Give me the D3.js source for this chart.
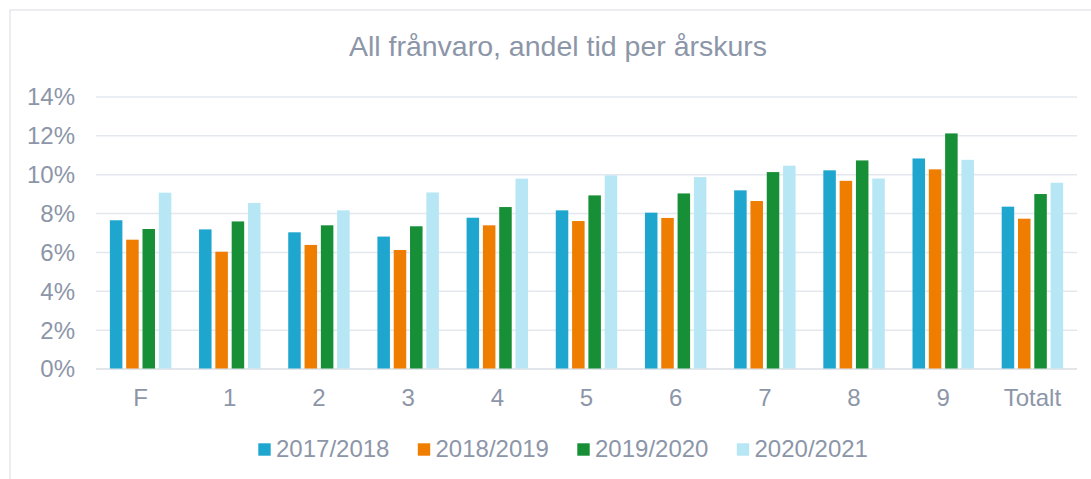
<!DOCTYPE html>
<html>
<head>
<meta charset="utf-8">
<script src="https://cdn.jsdelivr.net/npm/d3@7"></script>
<style>
    html, body { margin: 0; padding: 0; background: #fff; }
    svg { display: block; font-family: "Liberation Sans", Arial, sans-serif; }
</style>
</head>
<body>
<svg id="chart" width="1091" height="479"></svg>
<script>

// data
const categories   =   ['F', '1', '2', '3', '4', '5', '6', '7', '8', '9', 'Totalt'];
const seriesNames  =   ['2017/2018', '2018/2019', '2019/2020', '2020/2021'];
const s2017        =   [7.63, 7.16, 7.01, 6.79, 7.76, 8.14, 8.02, 9.17, 10.20, 10.81, 8.33];
const s2018        =   [6.63, 6.01, 6.36, 6.10, 7.37, 7.59, 7.75, 8.62, 9.66, 10.25, 7.71];
const s2019        =   [7.18, 7.57, 7.37, 7.32, 8.31, 8.91, 9.01, 10.11, 10.71, 12.10, 8.98];
const s2020        =   [9.05, 8.52, 8.14, 9.06, 9.77, 9.94, 9.85, 10.44, 9.78, 10.74, 9.56];
const yTicks       =   [0, 2, 4, 6, 8, 10, 12, 14];
const title        =   'All frånvaro, andel tid per årskurs';

const seriesValues =   [s2017, s2018, s2019, s2020];
const colors       =   ['#1fa6cf', '#ee7d00', '#168f36', '#b7e6f5'];
const textColor    =   '#8c96a8';

const svg = d3.select('#chart');

// outer frame, runs off the right and bottom edge
svg.append('rect')
    .attr('x', 10).attr('y', 10)
    .attr('width', 1100).attr('height', 490)
    .attr('fill', '#fff')
    .attr('stroke', '#e5e8ec')
    .attr('stroke-width', 1.5);

const plot = { left: 96, right: 1077, top: 96.5, bottom: 368.5 };

const x0 = d3.scaleBand()
    .domain(categories)
    .range([plot.left, plot.right])
    .paddingInner(0.311)
    .paddingOuter(0.1555);

const x1 = d3.scaleBand()
    .domain(seriesNames)
    .range([0, x0.bandwidth()])
    .paddingInner(0.233);

const y = d3.scaleLinear()
    .domain([0, 14])
    .range([plot.bottom, plot.top]);

// title
svg.append('text')
    .attr('x', 558)
    .attr('y', 56)
    .attr('text-anchor', 'middle')
    .attr('fill', textColor)
    .style('font-size', '28.5px')
    .text(title);

// gridlines + y axis labels
const yAxis = d3.axisLeft(y)
    .tickValues(yTicks)
    .tickSize(-(plot.right - plot.left))
    .tickPadding(21)
    .tickFormat(d => d + '%');

const gy = svg.append('g')
    .attr('transform', `translate(${plot.left},0)`)
    .call(yAxis);
gy.select('.domain').remove();
gy.selectAll('.tick line')
    .attr('stroke', d => d === 0 ? '#d9dee5' : '#e4e8ee')
    .attr('stroke-width', 1.5);
gy.selectAll('.tick text')
    .attr('fill', textColor)
    .attr('dy', '0.35em')
    .style('font-size', '24px')
    .style('font-family', '"Liberation Sans", Arial, sans-serif');

// bars
const groups = svg.append('g')
    .selectAll('g')
    .data(categories)
    .join('g')
    .attr('transform', d => `translate(${x0(d)},0)`);

groups.selectAll('rect')
    .data((c, i) => seriesNames.map((s, k) => ({ series: s, k: k, value: seriesValues[k][i] })))
    .join('rect')
    .attr('x', d => x1(d.series))
    .attr('y', d => y(d.value))
    .attr('width', x1.bandwidth())
    .attr('height', d => y(0) - y(d.value))
    .attr('fill', d => colors[d.k]);

// x axis labels
const xAxis = d3.axisBottom(x0)
    .tickSize(0)
    .tickPadding(20);

const gx = svg.append('g')
    .attr('transform', `translate(0,${plot.bottom})`)
    .call(xAxis);
gx.select('.domain').remove();
gx.selectAll('.tick text')
    .attr('fill', textColor)
    .style('font-size', '24px')
    .style('font-family', '"Liberation Sans", Arial, sans-serif');

// legend
const legendX = 258.3;
const legendStep = 159.5;
const legend = svg.append('g')
    .selectAll('g')
    .data(seriesNames)
    .join('g')
    .attr('transform', (d, i) => `translate(${legendX + i * legendStep},443.3)`);

legend.append('rect')
    .attr('width', 12.4)
    .attr('height', 12.4)
    .attr('fill', (d, i) => colors[i]);

legend.append('text')
    .attr('x', 17.7)
    .attr('y', 14)
    .attr('fill', textColor)
    .style('font-size', '24px')
    .text(d => d);

</script>
</body>
</html>
